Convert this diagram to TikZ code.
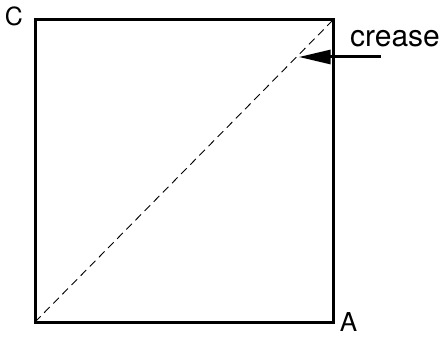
\documentclass[tikz,border=0pt]{standalone}
\usepackage{fontspec}
\setmainfont{TeX Gyre Heros}
\usetikzlibrary{arrows.meta,positioning,calc}

\begin{document}
\begin{tikzpicture}[x=1pt,y=-1pt,>=Latex,edge/.style={line width=3pt,line join=miter},fold/.style={line width=0.9pt,dash pattern=on 8pt off 5pt},lbl/.style={inner sep=0pt,font=\fontsize{25}{28}\selectfont}]
 \useasboundingbox (0,0) rectangle (445,337);
 \coordinate (tl) at (35,20);
 \coordinate (tr) at (333,20);
 \coordinate (br) at (333,322);
 \coordinate (bl) at (35,322);
 \draw[edge] (tl) -- (tr) -- (br) -- (bl) -- cycle;
 \draw[fold] (bl) -- (tr);
 \node[lbl] (c) at (14,16.5) {C};
 \node[lbl,font=\fontsize{26}{28}\selectfont] (a) at (348.5,322) {A};
 \node[lbl,font=\fontsize{30}{32}\selectfont] (crease) at (395,38.5) {crease};
 \coordinate (tail) at (381,57);
 \coordinate (tip) at ($(bl)!0.885!(tr)$);
 \draw[line width=3pt,-{Triangle[length=32pt,width=14pt]}] (tail) -- (tail-|tip);
\end{tikzpicture}
\end{document}
